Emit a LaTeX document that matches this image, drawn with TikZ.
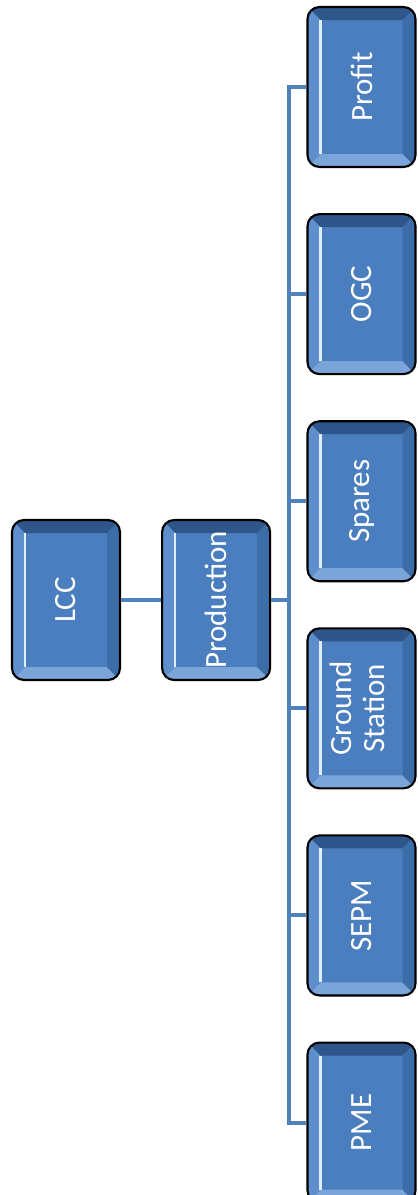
\documentclass[tikz,border=0pt]{standalone}
\usepackage{graphicx}
\usepackage{fontspec}
\setmainfont{Carlito}
\usetikzlibrary{positioning,calc}
\definecolor{cardface}{HTML}{4A7EBF}
\definecolor{cardtop}{HTML}{2E568A}
\definecolor{cardbottom}{HTML}{7BA5D8}
\definecolor{cardleft}{HTML}{5E8ECB}
\definecolor{cardright}{HTML}{3D6DA8}
\definecolor{cardshine}{HTML}{E0EEFA}
\definecolor{linkblue}{HTML}{4F81BD}
\newcommand{\bevdepth}{0.26cm}

\begin{document}
\begin{tikzpicture}[
  card/.style={draw=black, line width=1.2pt, rounded corners=0.24cm, fill=cardface,
               minimum width=2.16cm, minimum height=3.2cm, inner sep=0pt,
               text=white, font=\fontsize{17.6}{18.5}\selectfont,
               path picture={
                 \path (path picture bounding box.south west) coordinate (bl)
                       (path picture bounding box.north east) coordinate (tr);
                 % bevelled frame round the face
                 \fill[cardtop, sharp corners] (bl |- tr) -- (tr) -- ++(-\bevdepth,-\bevdepth)
                   -- ($(bl |- tr)+(\bevdepth,-\bevdepth)$) -- cycle;
                 \fill[cardbottom, sharp corners] (bl) -- (bl -| tr) -- ++(-\bevdepth,\bevdepth)
                   -- ($(bl)+(\bevdepth,\bevdepth)$) -- cycle;
                 \fill[cardleft, sharp corners] (bl) -- (bl |- tr) -- ++(\bevdepth,-\bevdepth)
                   -- ($(bl)+(\bevdepth,\bevdepth)$) -- cycle;
                 \fill[cardright, sharp corners] (bl -| tr) -- (tr) -- ++(-\bevdepth,-\bevdepth)
                   -- ($(bl -| tr)+(-\bevdepth,\bevdepth)$) -- cycle;
                 \draw[cardshine, line width=1.4pt, sharp corners]
                   ($(bl)+(\bevdepth,\bevdepth)$) -- ($(bl |- tr)+(\bevdepth,-\bevdepth)$);
               }},
  link/.style={draw=linkblue, line width=2.3pt},
]
  \useasboundingbox (0,0) rectangle (8.34,-23.9);

  \node[card] (lcc) at (1.32,-12.0) {\rotatebox{90}{LCC}};
  \node[card, right=0.8cm of lcc] (prod) {\rotatebox{90}{Production}};

  \node[card] (profit) at (7.23,-1.74) {\rotatebox{90}{Profit}};
  \node[card, below=0.9cm of profit] (ogc) {\rotatebox{90}{OGC}};
  \node[card, below=0.9cm of ogc] (spares) {\rotatebox{90}{Spares}};
  \node[card, below=0.9cm of spares] (ground)
    {\rotatebox{90}{\begin{tabular}{@{}c@{}}Ground\\Station\end{tabular}}};
  \node[card, below=0.9cm of ground] (sepm) {\rotatebox{90}{SEPM}};
  \node[card, below=0.9cm of sepm] (pme) {\rotatebox{90}{PME}};

  \coordinate (bus) at ($(prod.east)!0.5!(prod.east -| profit.west)$);

  \draw[link] (lcc) -- (prod);
  \draw[link] (prod.east) -- (bus);
  \draw[link] (profit.west) -| (bus |- pme.west) -- (pme.west);
  \draw[link] (bus |- ogc.west) -- (ogc.west);
  \draw[link] (bus |- spares.west) -- (spares.west);
  \draw[link] (bus |- ground.west) -- (ground.west);
  \draw[link] (bus |- sepm.west) -- (sepm.west);
\end{tikzpicture}
\end{document}
